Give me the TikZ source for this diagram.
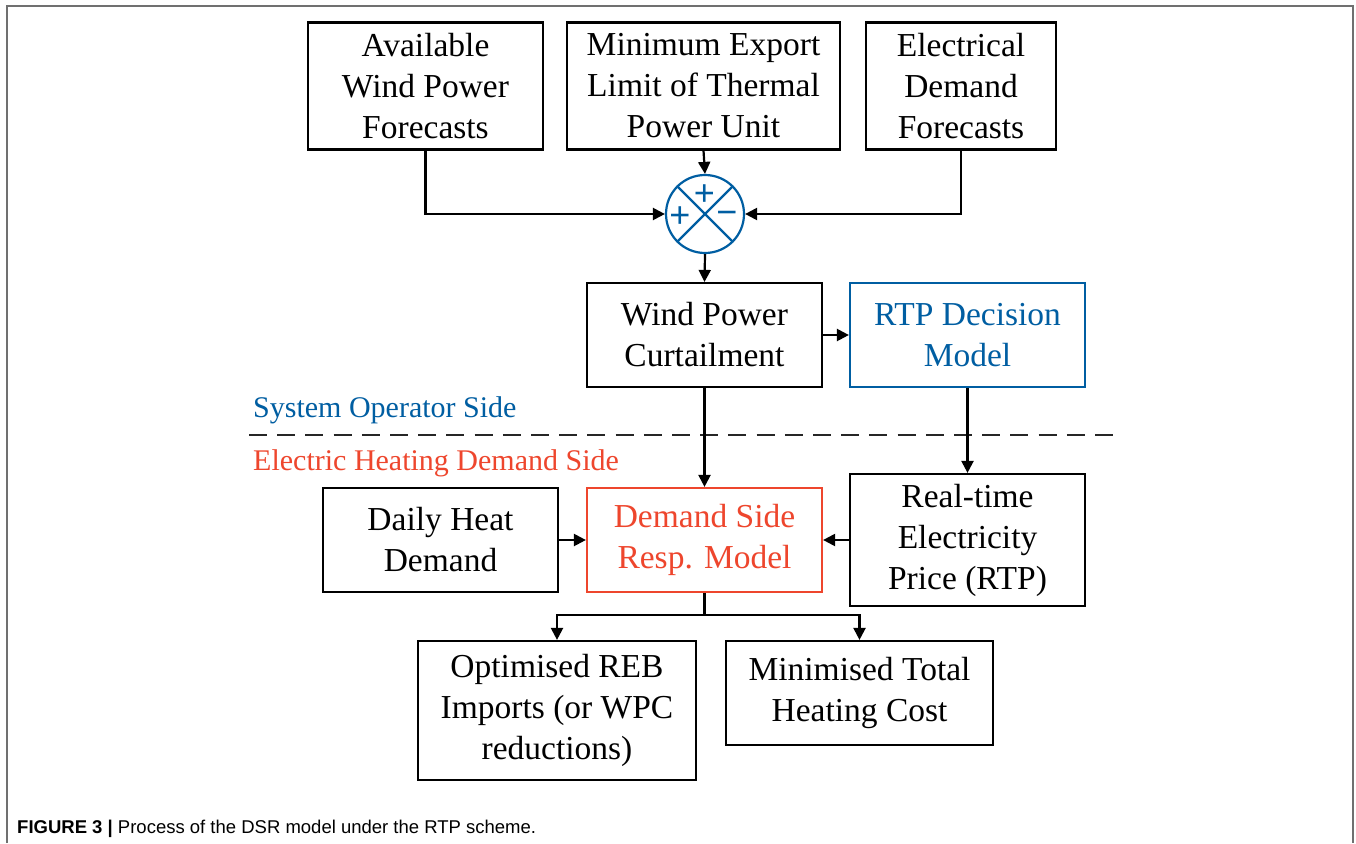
\documentclass[tikz,border=0pt]{standalone}
\usepackage{fontspec}
\setmainfont{Liberation Serif}
\newfontfamily\capfont{Liberation Sans}
\usetikzlibrary{arrows.meta}
\definecolor{opblue}{RGB}{0,94,162}
\definecolor{dsred}{RGB}{238,70,45}
\definecolor{framegray}{RGB}{112,112,112}
\begin{document}
\begin{tikzpicture}[x=1pt,y=-1pt,
  box/.style={draw=black,line width=2.2pt,rectangle,align=center,inner sep=0pt,
    font=\fontsize{33.5}{41}\selectfont,text=black},
  bluebox/.style={box,draw=opblue,text=opblue},
  redbox/.style={box,draw=dsred,text=dsred},
  arr/.style={line width=2.2pt,-{Triangle[length=12pt,width=12pt]}},
  ln/.style={line width=2.2pt},
  sign/.style={text=opblue,font=\capfont\fontsize{36}{36}\selectfont,inner sep=0pt}]
\useasboundingbox (0,0) rectangle (1356,843);
\fill[white] (0,0) rectangle (1356,843);
\draw[framegray,line width=1.5pt] (7,843) -- (7,6) -- (1353,6) -- (1353,843);

\node[box,minimum width=235pt,minimum height=127pt] (A) at (425.5,86) {Available\\Wind Power\\Forecasts};
\node[box,minimum width=273pt,minimum height=127pt] (B) at (703.5,86) {Minimum Export\\Limit of Thermal\\Power Unit};
\node[box,minimum width=190pt,minimum height=127pt] (C) at (961,86) {Electrical\\Demand\\Forecasts};

\node[draw=opblue,circle,line width=2.2pt,minimum size=78pt,inner sep=0pt] (S) at (705,214) {};
\draw[opblue,line width=2.2pt] (S.45) -- (S.225) (S.135) -- (S.315);
\node[sign] (sp1) at (704.5,195) {+};
\node[sign] (sp2) at (680,217) {+};
\node[sign] (sm) at (727,218) {\textminus};

\node[box,minimum width=235pt,minimum height=104pt] (W) at (704.5,335) {Wind Power\\Curtailment};
\node[bluebox,minimum width=235pt,minimum height=104pt] (R) at (967.5,335) {RTP Decision\\Model};

\node[anchor=base west,inner sep=0pt,text=opblue,font=\fontsize{30}{30}\selectfont] (sos) at (253,417) {System Operator Side};
\draw[line width=2.2pt,dash pattern=on 18pt off 10.2pt,black!85] (249,435) -- (1113,435);
\node[anchor=base west,inner sep=0pt,text=dsred,font=\fontsize{30}{30}\selectfont] (ehd) at (253,470) {Electric Heating Demand Side};

\node[box,minimum width=235pt,minimum height=132pt] (T) at (967.5,540) {Real-time\\Electricity\\Price (RTP)};
\node[redbox,minimum width=235pt,minimum height=104pt] (D) at (704.5,540) {Demand Side\\Resp. Model};
\node[box,minimum width=235pt,minimum height=104pt] (H) at (440.5,540) {Daily Heat\\Demand};

\node[box,minimum width=278pt,minimum height=139pt] (O) at (557,710.5) {Optimised REB\\Imports (or WPC\\reductions)};
\node[box,minimum width=267pt,minimum height=104pt] (M) at (859.5,693) {Minimised Total\\Heating Cost};

\draw[arr] (A.south) |- (S.west);
\draw[arr] (C.south) |- (S.east);
\draw[arr] (B.south) -- (S.north);
\draw[arr] (S.south) -- (W.north);
\draw[arr] (W.east) -- (R.west);
\draw[arr] (R.south) -- (T.north);
\draw[arr] (W.south) -- (D.north);
\draw[arr] (H.east) -- (D.west);
\draw[arr] (T.west) -- (D.east);
\coordinate (br) at (704.5,615);
\draw[ln] (D.south) -- (br);
\draw[arr] (br) -| (O.north);
\draw[arr] (br) -| (M.north);

\node[anchor=base west,inner sep=0pt,font=\capfont\fontsize{18.5}{18.5}\selectfont] (cap) at (17,833) {\textbf{FIGURE 3 |} Process of the DSR model under the RTP scheme.};
\end{tikzpicture}
\end{document}
